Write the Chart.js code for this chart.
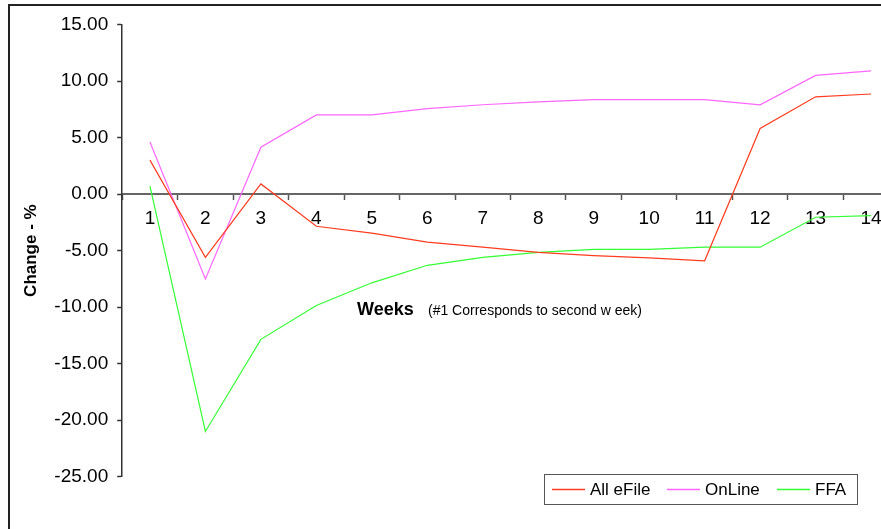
<!DOCTYPE html>
<html>
<head>
<meta charset="utf-8">
<title>Weekly change - %</title>
<script src="https://cdn.jsdelivr.net/npm/chart.js@4/dist/chart.umd.min.js"></script>
<style>
  html, body { margin: 0; padding: 0; background: #fff; overflow: hidden; width: 881px; height: 529px; }
  #wrap { position: absolute; left: 0; top: 0; }
</style>
</head>
<body>
<div id="wrap"><canvas id="chart" width="920" height="560"></canvas></div>
<script>
// Week numbers (#1 corresponds to the second week)
const weeks = ['1', '2', '3', '4', '5', '6', '7', '8', '9', '10', '11', '12', '13', '14'];

// Percentage change per week
const allEFile = [3.0, -5.6, 0.9, -2.85, -3.45, -4.25, -4.7, -5.15, -5.45, -5.65, -5.9, 5.8, 8.6, 8.85];
const onLine   = [4.6, -7.5, 4.15, 7.0, 7.0, 7.55, 7.9, 8.15, 8.35, 8.35, 8.35, 7.9, 10.5, 10.9];
const ffa      = [0.7, -21.0, -12.85, -9.85, -7.85, -6.3, -5.6, -5.15, -4.9, -4.9, -4.7, -4.7, -2.05, -1.9];

const seriesNames = ['All eFile', 'OnLine', 'FFA'];
const seriesColors = ['#ff3c1e', '#ff66ff', '#33ff33'];

// Y axis range and tick step
const yMin = -25, yMax = 15, yStep = 5;

const FONT = '"Liberation Sans", Arial, sans-serif';

// Outer frame of the chart area
const framePlugin = {
  id: 'frame',
  afterDraw(chart) {
    const ctx = chart.ctx;
    ctx.save();
    ctx.strokeStyle = '#222';
    ctx.lineWidth = 2;
    ctx.strokeRect(9, 5, 1000, 1000);
    ctx.restore();
  }
};

// "Weeks" caption placed inside the plot
const weeksCaption = {
  id: 'weeksCaption',
  afterDraw(chart) {
    const ctx = chart.ctx;
    ctx.save();
    ctx.fillStyle = '#000';
    ctx.textBaseline = 'alphabetic';
    ctx.textAlign = 'left';
    ctx.font = 'bold 18px ' + FONT;
    ctx.fillText('Weeks', 357, 315);
    ctx.font = '14px ' + FONT;
    ctx.fillText('(#1 Corresponds to second w eek)', 428, 315);
    ctx.restore();
  }
};

// Boxed legend in the lower right corner
const boxLegend = {
  id: 'boxLegend',
  afterDraw(chart) {
    const ctx = chart.ctx;
    const x0 = 544.5, y0 = 474.5, w = 313, h = 30;
    ctx.save();
    ctx.fillStyle = '#fff';
    ctx.fillRect(x0, y0, w, h);
    ctx.strokeStyle = '#555';
    ctx.lineWidth = 1;
    ctx.strokeRect(x0, y0, w, h);
    const cy = y0 + h / 2;
    const starts = [552, 667, 777];
    ctx.font = '17px ' + FONT;
    ctx.textBaseline = 'middle';
    ctx.textAlign = 'left';
    chart.data.datasets.forEach((ds, i) => {
      const sx = starts[i];
      ctx.strokeStyle = ds.borderColor;
      ctx.lineWidth = 1.5;
      ctx.beginPath();
      ctx.moveTo(sx, cy);
      ctx.lineTo(sx + 33, cy);
      ctx.stroke();
      ctx.fillStyle = '#000';
      ctx.fillText(ds.label, sx + 38, cy + 1);
    });
    ctx.restore();
  }
};

const datasets = [allEFile, onLine, ffa].map((values, i) => ({
  label: seriesNames[i],
  data: values,
  borderColor: seriesColors[i],
  backgroundColor: seriesColors[i],
  borderWidth: 1.2,
  pointRadius: 0,
  tension: 0,
  fill: false
}));

new Chart(document.getElementById('chart'), {
  type: 'line',
  data: { labels: weeks, datasets },
  options: {
    responsive: false,
    animation: false,
    devicePixelRatio: 1,
    layout: { padding: { left: 0, top: 24.5, right: 21.2, bottom: 83.3 } },
    plugins: {
      legend: { display: false },
      tooltip: { enabled: false }
    },
    scales: {
      x: {
        type: 'category',
        position: { y: 0 },
        offset: true,
        grid: {
          offset: true,
          drawOnChartArea: false,
          drawTicks: true,
          tickLength: 5,
          tickColor: '#555',
          tickWidth: 1.5
        },
        border: { display: true, color: '#666', width: 2 },
        ticks: {
          color: '#000',
          padding: 8,
          maxRotation: 0,
          autoSkip: false,
          font: { family: FONT, size: 19 }
        }
      },
      y: {
        min: yMin,
        max: yMax,
        afterFit(scale) { scale.width = 122.2; },
        grid: {
          drawOnChartArea: false,
          drawTicks: true,
          tickLength: 5,
          tickColor: '#333',
          tickWidth: 1.5
        },
        border: { display: true, color: '#333', width: 1.5 },
        ticks: {
          stepSize: yStep,
          color: '#000',
          padding: 9,
          font: { family: FONT, size: 19 },
          callback: v => Number(v).toFixed(2)
        },
        title: {
          display: true,
          text: 'Change - %',
          color: '#000',
          padding: { top: 21, bottom: 0 },
          font: { family: FONT, size: 17, weight: 'bold' }
        }
      }
    }
  },
  plugins: [framePlugin, weeksCaption, boxLegend]
});
</script>
</body>
</html>
